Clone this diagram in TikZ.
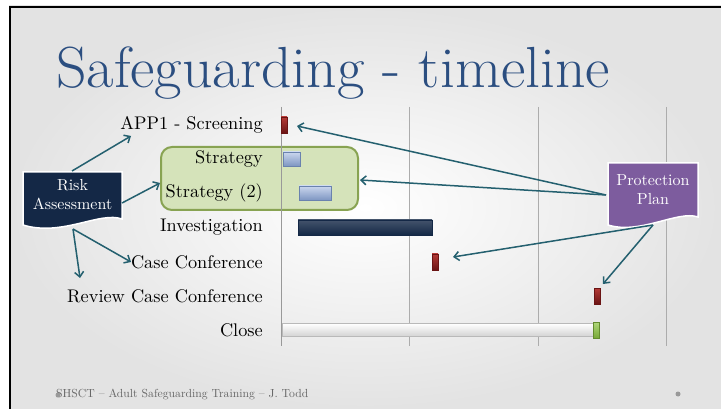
\documentclass[tikz,border=0pt]{standalone}
\usepackage{fontspec}
\newfontfamily\lmten{lmroman10-regular}[Extension=.otf]
\newfontfamily\lmtitle{lmroman17-regular}[Extension=.otf,FakeStretch=1.03]
\usetikzlibrary{arrows.meta}
\definecolor{titleblue}{HTML}{2B4E80}
\definecolor{arrowteal}{HTML}{24606F}
\definecolor{navy}{HTML}{142846}
\definecolor{ppurple}{HTML}{7D5C9E}
\definecolor{boxgreen}{HTML}{D5E3BA}
\definecolor{boxgreenline}{HTML}{88A352}
\definecolor{barredtop}{HTML}{B53A36}
\definecolor{barredbot}{HTML}{6A1414}
\definecolor{barbluetop}{HTML}{CBD7EE}
\definecolor{barbluebot}{HTML}{7E96C2}
\definecolor{barblueline}{HTML}{6A82AE}
\definecolor{endgreen}{HTML}{8DC641}
\tikzset{
  lbl/.style={anchor=east, inner sep=0pt, font=\lmten\fontsize{18.3}{21}\selectfont},
  boxtxt/.style={text=white, align=center, inner sep=0pt, font=\lmten\fontsize{16}{19}\selectfont},
  conn/.style={draw=arrowteal, line width=1.5pt, -{Straight Barb[length=5pt,width=9pt]}},
  redbar/.style={top color=barredtop, bottom color=barredbot, draw=barredbot, line width=0.4pt, inner sep=0pt, minimum width=6pt, minimum height=16pt},
  bluebar/.style={top color=barbluetop, bottom color=barbluebot, draw=barblueline, line width=0.5pt, inner sep=0pt, minimum height=14pt},
  navybar/.style={top color=navy!80!white, bottom color=navy, draw=navy, inner sep=0pt, minimum height=15pt},
  gridline/.style={draw=gray!65, line width=0.8pt},
}
\begin{document}
\begin{tikzpicture}[x=1pt,y=-1pt]
\useasboundingbox (0,0) rectangle (721,409);
\fill[white] (0,0) rectangle (721,409);
\shade[inner color=white, outer color=gray!22] (9,6) rectangle (721,409);
\draw[line width=2.5pt] (10,409) -- (10,7) -- (721,7);

% title
\node[anchor=base west, inner sep=0pt, text=titleblue, font=\lmtitle\fontsize{58}{60}\selectfont] (title) at (56,88) {Safeguarding - timeline};

% green grouping box
\draw[fill=boxgreen, draw=boxgreenline, line width=2pt, rounded corners=11pt] (161,147) rectangle (358,210);
\coordinate (gbl) at (160,183);
\coordinate (gbr) at (360,180);

% grid
\draw[gridline] (409,107) -- (409,346);
\draw[gridline] (538,107) -- (538,346);
\draw[gridline] (666,107) -- (666,346);
\draw[draw=gray!80, line width=0.9pt] (281,107) -- (281,346);

% labels
\node[lbl] (l1) at (263,125) {APP1 - Screening};
\node[lbl] (l2) at (263,159) {Strategy};
\node[lbl] (l3) at (263,193) {Strategy (2)};
\node[lbl] (l4) at (263,227) {Investigation};
\node[lbl] (l5) at (263,262) {Case Conference};
\node[lbl] (l6) at (263,296) {Review Case Conference};
\node[lbl] (l7) at (263,330) {Close};

% bars
\node[redbar] (b1) at (284,125) {};
\node[bluebar, minimum width=17pt] (b2) at (291.5,159) {};
\node[bluebar, minimum width=32pt] (b3) at (315,193) {};
\node[navybar, minimum width=134pt] (b4) at (365,227.5) {};
\node[redbar] (b5) at (435,262) {};
\node[redbar] (b6) at (597,296) {};
\node[top color=white, bottom color=gray!35, draw=gray!55, line width=0.6pt, inner sep=0pt, minimum width=312pt, minimum height=13pt] (b7) at (438,330) {};
\node[top color=endgreen!70!white, bottom color=endgreen!85!black, draw=endgreen!70!black, line width=0.4pt, inner sep=0pt, minimum width=6pt, minimum height=16pt] (b7e) at (596.5,330) {};

% Risk Assessment document shape
\draw[fill=navy, draw=white, line width=1.5pt] (23,172) -- (122,172) -- (122,219)
  .. controls (100,211) and (62,237) .. (23,225) -- cycle;
\node[boxtxt] (ra) at (72.5,195) {Risk\\Assessment};
\coordinate (ratop) at (72,171);
\coordinate (raright) at (122,203);
\coordinate (rabot) at (73,229);

% Protection Plan document shape
\draw[fill=ppurple, draw=white, line width=1.5pt] (608,163) -- (698,163) -- (698,217)
  .. controls (678,210) and (640,235) .. (608,225) -- cycle;
\node[boxtxt] (pp) at (653,190) {Protection\\Plan};
\coordinate (ppleft) at (606,195);
\coordinate (ppbot) at (653,225);

% connectors
\coordinate (a1) at (131,136);
\coordinate (a3) at (131,262);
\coordinate (a4) at (80,278);
\coordinate (p1) at (297,126);
\coordinate (p3) at (453,257);
\coordinate (p4) at (603,284);
\draw[conn] (ratop) -- (a1);
\draw[conn] (raright) -- (gbl);
\draw[conn] (rabot) -- (a3);
\draw[conn] (rabot) -- (a4);
\draw[conn] (ppleft) -- (p1);
\draw[conn] (ppleft) -- (gbr);
\draw[conn] (ppbot) -- (p3);
\draw[conn] (ppbot) -- (p4);

% footer
\node[anchor=west, inner sep=0pt, text=gray!80!black, font=\lmten\fontsize{11.7}{13}\selectfont] (foot) at (56,395) {SHSCT – Adult Safeguarding Training – J. Todd};
\fill[gray!80] (58,395) circle (2.5pt);
\fill[gray!80] (678,394) circle (2.5pt);
\end{tikzpicture}
\end{document}
